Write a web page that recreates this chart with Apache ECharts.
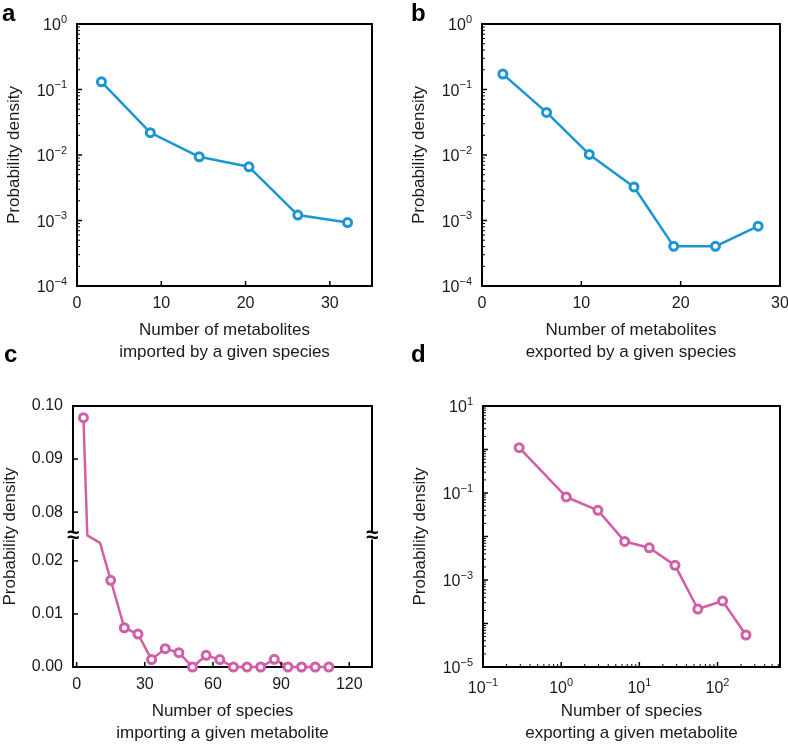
<!DOCTYPE html>
<html>
<head>
<meta charset="utf-8">
<script src="https://cdn.jsdelivr.net/npm/echarts@6/dist/echarts.min.js"></script>
<style>html,body{margin:0;padding:0;background:#fff}#chart{width:788px;height:746px}</style>
</head>
<body>
<div id="chart"></div>
<script>
// ---------- data ----------
// Panel a: metabolites imported by a given species
const aX = [2.9, 8.7, 14.5, 20.4, 26.2, 32.1];
const aY = [0.131, 0.0219, 0.0094, 0.0066, 0.00121, 0.00093];
// Panel b: metabolites exported by a given species
const bX = [2.1, 6.5, 10.8, 15.3, 19.3, 23.5, 27.8];
const bY = [0.172, 0.0447, 0.0102, 0.00325, 0.000403, 0.000403, 0.00082];
// Panel c: species importing a given metabolite (line vertices; marked = bin points)
const cX = [3, 4.7, 10.3, 15, 21, 27, 33, 39, 45, 51, 57, 63, 69, 75, 81, 87, 93, 99, 105, 111];
const cY = [0.0978, 0.05, 0.0234, 0.01635, 0.0074, 0.0062, 0.0014, 0.00346, 0.0027, 0, 0.0022, 0.0014, 0, 0, 0, 0.00145, 0, 0, 0, 0];
const cMarked = [1, 0, 0, 1, 1, 1, 1, 1, 1, 1, 1, 1, 1, 1, 1, 1, 1, 1, 1, 1];
// Panel d: species exporting a given metabolite
const dX = [0.29, 1.16, 2.95, 6.5, 13.4, 28.6, 56, 116, 231];
const dY = [1.1, 0.081, 0.040, 0.0077, 0.0055, 0.00217, 0.000215, 0.00033, 0.0000544];
// axis break on panel c
const cBreak = [0.0248, 0.0756];
// tick values
const aXTicks = [0, 10, 20, 30];
const bXTicks = [0, 10, 20, 30];
const cXTicks = [0, 30, 60, 90, 120];
const cYTicks = [0, 0.01, 0.02, 0.08, 0.09, 0.10];
const abYDecades = [1e-4, 1e-3, 1e-2, 1e-1, 1];
const dYDecades = [1e-5, 1e-4, 1e-3, 1e-2, 1e-1, 1, 10];
const dXDecades = [0.1, 1, 10, 100];
// titles
const xTitles = ['Number of metabolites\nimported by a given species',
                 'Number of metabolites\nexported by a given species',
                 'Number of species\nimporting a given metabolite',
                 'Number of species\nexporting a given metabolite'];
const yTitle = 'Probability density';
const letters = ['a', 'b', 'c', 'd'];

// ---------- style ----------
const FONT = '"Liberation Sans", Arial, Helvetica, sans-serif';
const INK = '#1a1a1a';
const BLUE = '#1b96d2';
const PINK = '#d25ea6';

const chart = echarts.init(document.getElementById('chart'), null, {renderer: 'canvas'});

const gridRects = [
  {left: 77, top: 24, width: 295, height: 262},
  {left: 482, top: 24, width: 298, height: 262},
  {left: 73, top: 406, width: 299, height: 261},
  {left: 483, top: 406, width: 297, height: 261}
];
const grids = gridRects.map(g => Object.assign({show: true, borderColor: '#000', borderWidth: 2, backgroundColor: 'transparent', containLabel: false, outerBoundsMode: 'none'}, g));

const rich = {
  b: {fontSize: 16, fontFamily: FONT, color: INK, lineHeight: 20, verticalAlign: 'bottom'},
  s: {fontSize: 11, fontFamily: FONT, color: INK, lineHeight: 11, verticalAlign: 'top'}
};
function supLabel(v, oddOnly) {
  const l = Math.log10(v), e = Math.round(l);
  if (Math.abs(l - e) > 1e-6) return '';
  if (oddOnly && Math.abs(e) % 2 !== 1) return '';
  return '{b|10}{s|' + (e < 0 ? '\u2212' + (-e) : e) + '}';
}
function inList(list, v) { return list.some(t => Math.abs(t - v) < 1e-9); }

const axisLine = {show: true, onZero: false, lineStyle: {color: '#000', width: 2}};
function label(extra) {
  return Object.assign({fontSize: 16, fontFamily: FONT, color: INK, margin: 10, hideOverlap: false,
    showMinLabel: true, showMaxLabel: true}, extra);
}
const nameStyle = {fontSize: 17, fontFamily: FONT, color: INK, lineHeight: 22};

function xAxisBase(i, extra) {
  return Object.assign({
    gridIndex: i, position: 'bottom',
    name: xTitles[i], nameLocation: 'middle', nameGap: 33, nameTextStyle: nameStyle, nameMoveOverlap: false,
    axisLine, axisTick: {show: false}, splitLine: {show: false}, minorTick: {show: false}
  }, extra);
}
function yAxisBase(i, extra) {
  return Object.assign({
    gridIndex: i, position: 'left',
    name: yTitle, nameLocation: 'middle', nameGap: 52, nameTextStyle: nameStyle, nameMoveOverlap: false,
    axisLine, axisTick: {show: false}, splitLine: {show: false}, minorTick: {show: false}
  }, extra);
}

const xAxes = [
  xAxisBase(0, {type: 'value', min: 0, max: 35, interval: 10,
    axisLabel: label({formatter: v => (inList(aXTicks, v) ? String(v) : '')})}),
  xAxisBase(1, {type: 'value', min: 0, max: 30, interval: 10,
    axisLabel: label({formatter: v => (inList(bXTicks, v) ? String(v) : '')})}),
  xAxisBase(2, {type: 'value', min: -1.6, max: 130,
    axisLabel: label({customValues: cXTicks, formatter: v => String(v)})}),
  xAxisBase(3, {type: 'log', logBase: 10, min: 0.1, max: 630,
    axisLabel: label({formatter: v => supLabel(v, false), rich})})
];
const yAxes = [
  yAxisBase(0, {type: 'log', logBase: 10, min: 1e-4, max: 1,
    axisLabel: label({formatter: v => supLabel(v, false), rich})}),
  yAxisBase(1, {type: 'log', logBase: 10, min: 1e-4, max: 1,
    axisLabel: label({formatter: v => supLabel(v, false), rich})}),
  yAxisBase(2, {type: 'value', min: 0, max: 0.1,
    breaks: [{start: cBreak[0], end: cBreak[1], gap: 0}],
    breakArea: {show: false, expandOnClick: false},
    breakLabelLayout: {moveOverlap: false},
    axisLabel: label({customValues: cYTicks, formatter: v => v.toFixed(2)})}),
  yAxisBase(3, {type: 'log', logBase: 10, min: 1e-5, max: 10,
    axisLabel: label({formatter: v => supLabel(v, true), rich})})
];

function lineSeries(i, xs, ys, color, marked) {
  return {
    type: 'line', xAxisIndex: i, yAxisIndex: i,
    data: xs.map((x, k) => {
      const item = {value: [x, ys[k]]};
      if (marked && !marked[k]) item.symbol = 'none';
      return item;
    }),
    symbol: 'circle', symbolSize: 8, showAllSymbol: true,
    lineStyle: {color, width: 2.5},
    itemStyle: {color: '#fff', borderColor: color, borderWidth: 3},
    emphasis: {disabled: true}, animation: false, clip: false, z: 5
  };
}

chart.setOption({
  backgroundColor: '#fff',
  animation: false,
  textStyle: {fontFamily: FONT},
  grid: grids,
  xAxis: xAxes,
  yAxis: yAxes,
  series: [
    lineSeries(0, aX, aY, BLUE),
    lineSeries(1, bX, bY, BLUE),
    lineSeries(2, cX, cY, PINK, cMarked),
    lineSeries(3, dX, dY, PINK)
  ]
});

// ---------- decorations: panel letters, inward ticks (placed via axis scales), break marks ----------
const graphics = [];
const letterPos = [[2, 2], [411, 2], [4, 343], [411, 343]];
letters.forEach((t, i) => graphics.push({
  type: 'text', left: letterPos[i][0], top: letterPos[i][1],
  style: {text: t, font: 'bold 24px ' + FONT, fill: '#000'}
}));

function minorValues(lo, hi) {
  const out = [];
  for (let e = Math.floor(Math.log10(lo)); e < Math.ceil(Math.log10(hi)) + 1; e++) {
    for (let m = 2; m <= 9; m++) {
      const v = m * Math.pow(10, e);
      if (v > lo && v < hi) out.push(v);
    }
  }
  return out;
}
function px(i, x, y) { return chart.convertToPixel({gridIndex: i}, [x, y]); }
const gridLo = [[0, 1e-4], [0, 1e-4], [-1.6, 0], [0.1, 1e-5]];
function addYTicks(i, values, len, w) {
  const x0 = gridRects[i].left;
  values.forEach(v => {
    const p = px(i, gridLo[i][0], v);
    graphics.push({type: 'line', silent: true, z: 20,
      shape: {x1: x0, y1: p[1], x2: x0 + len, y2: p[1]}, style: {stroke: '#000', lineWidth: w}});
  });
}
function addXTicks(i, values, len, w) {
  const y0 = gridRects[i].top + gridRects[i].height;
  values.forEach(v => {
    const p = px(i, v, gridLo[i][1]);
    graphics.push({type: 'line', silent: true, z: 20,
      shape: {x1: p[0], y1: y0, x2: p[0], y2: y0 - len}, style: {stroke: '#000', lineWidth: w}});
  });
}
const MAJ = 5, MIN = 3;
addXTicks(0, aXTicks, MAJ, 1.5);
addXTicks(1, bXTicks, MAJ, 1.5);
addXTicks(2, cXTicks, MAJ, 1.5);
addXTicks(3, dXDecades, MAJ, 1.5);
addXTicks(3, minorValues(0.1, 630), MIN, 1);
addYTicks(0, abYDecades, MAJ, 1.5);
addYTicks(0, minorValues(1e-4, 1), MIN, 1);
addYTicks(1, abYDecades, MAJ, 1.5);
addYTicks(1, minorValues(1e-4, 1), MIN, 1);
addYTicks(2, cYTicks, MAJ, 1.5);
addYTicks(3, dYDecades, MAJ, 1.5);
addYTicks(3, minorValues(1e-5, 10), MIN, 1);

const mid = (cBreak[0] + cBreak[1]) / 2;
const yb = px(2, -1.6, mid)[1];
[gridRects[2].left, gridRects[2].left + gridRects[2].width].forEach(x => {
  graphics.push({type: 'rect', shape: {x: x - 5, y: yb - 4, width: 10, height: 8}, style: {fill: '#fff'}, z: 50});
  graphics.push({type: 'text', x: x, y: yb, z: 51,
    style: {text: '\u2248', font: 'bold 22px ' + FONT, fill: '#000', align: 'center', verticalAlign: 'middle'}});
});
chart.setOption({graphic: graphics});
</script>
</body>
</html>
